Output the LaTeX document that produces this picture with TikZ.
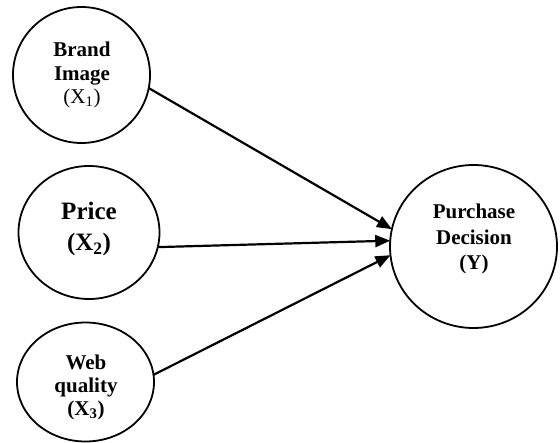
\documentclass[tikz,border=0pt]{standalone}
\usepackage{fontspec}
\setmainfont{Liberation Serif}
\usetikzlibrary{shapes.geometric,arrows.meta}
\tikzset{
  ell/.style={ellipse, draw, line width=1.8pt, inner sep=0pt, outer sep=0pt},
  lbl/.style={align=center, font=\bfseries\fontsize{21}{23.5}\selectfont, inner sep=0pt},
  conn/.style={line width=2.2pt, -{Triangle[length=15pt,width=12pt]}}
}
\begin{document}
\begin{tikzpicture}[x=1pt,y=-1pt]
\useasboundingbox (0,0) rectangle (560,443);
\node[ell, minimum width=137pt, minimum height=136pt] (x1) at (81.5,75) {};
\node[ell, minimum width=141pt, minimum height=133pt] (x2) at (89,232.5) {};
\node[ell, minimum width=137pt, minimum height=119pt] (x3) at (85.5,382) {};
\node[ell, minimum width=167pt, minimum height=163pt] (y) at (473.5,246.5) {};

\node[lbl] (t1) at (82,75) {Brand\\Image\\\mdseries(X\textsubscript{1})};
\node[lbl, font=\bfseries\fontsize{25}{31}\selectfont] (t2) at (89,229) {Price\\(X\textsubscript{2})};
\node[lbl, font=\bfseries\fontsize{21}{23}\selectfont] (t3) at (86,387) {Web\\quality\\(X\textsubscript{3})};
\node[lbl, font=\bfseries\fontsize{21}{25.5}\selectfont] (ty) at (474,239) {Purchase\\Decision\\(Y)};

\draw[conn] (x1.-11.5) -- (y.168.7);
\draw[conn] (x2.-12) -- (y.176.9);
\draw[conn] (x3.6.5) -- (y.186.4);
\end{tikzpicture}
\end{document}
